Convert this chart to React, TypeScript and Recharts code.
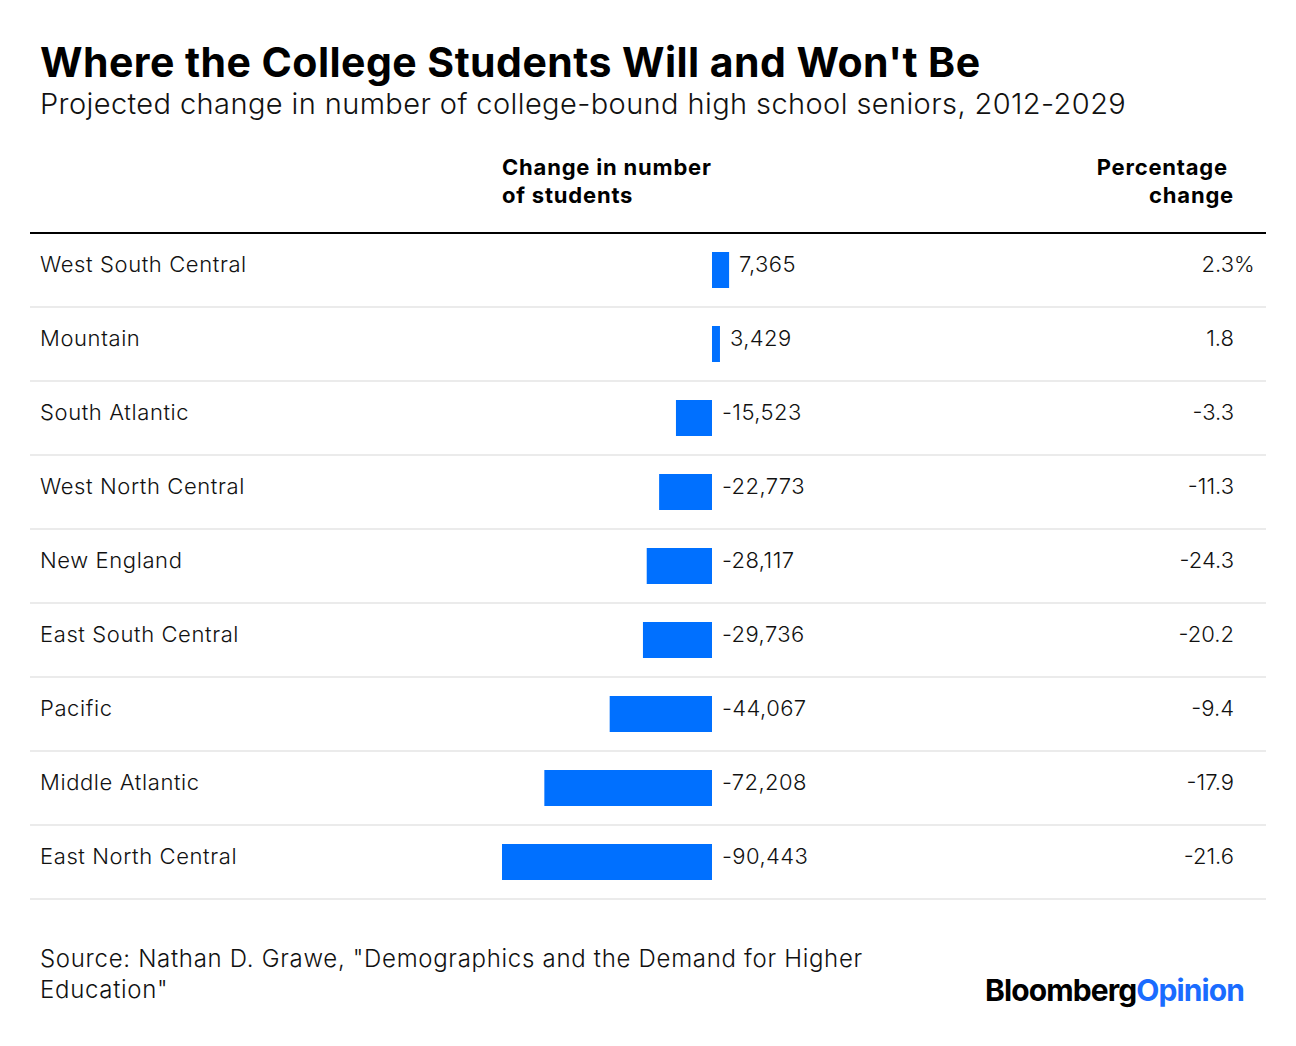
import { Bar, BarChart, LabelList, XAxis, YAxis } from 'recharts';

const regions = [
  'West South Central',
  'Mountain',
  'South Atlantic',
  'West North Central',
  'New England',
  'East South Central',
  'Pacific',
  'Middle Atlantic',
  'East North Central',
];
const changes = [7365, 3429, -15523, -22773, -28117, -29736, -44067, -72208, -90443];
const pctChanges = [2.3, 1.8, -3.3, -11.3, -24.3, -20.2, -9.4, -17.9, -21.6];

const BLUE = '#0070ff';
const FONT = 'Inter, "Noto Sans", sans-serif';
const ROW_H = 74;

const rows = regions.map((region, i) => ({
  region,
  change: changes[i],
  pct: pctChanges[i],
}));

const labelStyle = { fontSize: 22, fill: '#111', fontFamily: FONT, fontWeight: 300, letterSpacing: 0.6 };

function RowLine(props: any) {
  const { y, height } = props;
  const yy = y + height / 2 + ROW_H / 2;
  return <line x1={30} x2={1266} y1={yy} y2={yy} stroke="#ebebeb" strokeWidth={2} />;
}

function NameLabel(props: any) {
  const { y, height, value } = props;
  return (
    <text x={40} y={y + height / 2 + 2} style={labelStyle}>
      {value}
    </text>
  );
}

function ValueLabel(props: any) {
  const { x, y, width, height, value } = props;
  const right = Math.max(x, x + width);
  return (
    <text x={right + 10} y={y + height / 2 + 2} style={{ ...labelStyle, letterSpacing: 0.4 }}>
      {Number(value).toLocaleString('en-US')}
    </text>
  );
}

function PctLabel(props: any) {
  const { y, height, value, index } = props;
  const ty = y + height / 2 + 2;
  return (
    <g>
      <text x={1234} y={ty} style={{ ...labelStyle, letterSpacing: 0 }} textAnchor="end">
        {Number(value).toFixed(1)}
      </text>
      {index === 0 && (
        <text x={1234} y={ty} style={{ ...labelStyle, letterSpacing: 0 }}>
          %
        </text>
      )}
    </g>
  );
}

export default function App() {
  const k = 210 / 90443;
  const left = 712 - 100000 * k;
  const right = 1296 - (712 + 20000 * k);
  return (
    <div style={{ position: 'absolute', left: 0, top: 0, width: 1296, height: 1046, background: '#fff', fontFamily: FONT, color: '#000' }}>
      <div style={{ position: 'absolute', left: 40, top: 37, fontSize: 41, fontWeight: 700, whiteSpace: 'nowrap', letterSpacing: 0.45 }}>
        Where the College Students Will and Won't Be
      </div>
      <div style={{ position: 'absolute', left: 40, top: 86, fontSize: 29, fontWeight: 300, whiteSpace: 'nowrap', color: '#111', letterSpacing: 0.4 }}>
        Projected change in number of college-bound high school seniors, 2012-2029
      </div>
      <div style={{ position: 'absolute', left: 502, top: 153, fontSize: 22, fontWeight: 700, lineHeight: '28px', letterSpacing: 0.8 }}>
        Change in number
        <br />
        of students
      </div>
      <div style={{ position: 'absolute', right: 1296 - 1234, top: 153, fontSize: 22, fontWeight: 700, lineHeight: '28px', textAlign: 'right', letterSpacing: 0.8 }}>
        Percentage&nbsp;
        <br />
        change
      </div>
      <div style={{ position: 'absolute', left: 30, top: 232, width: 1236, height: 2, background: '#000' }} />
      <div style={{ position: 'absolute', left: 0, top: 0 }}>
        <BarChart
          width={1296}
          height={1046}
          data={rows}
          layout="vertical"
          margin={{ top: 233, bottom: 1046 - 233 - ROW_H * regions.length, left, right }}
          barCategoryGap={0}
        >
          <XAxis type="number" domain={[-100000, 20000]} hide />
          <YAxis type="category" dataKey="region" hide />
          <Bar dataKey="change" fill={BLUE} barSize={36} background={<RowLine />} isAnimationActive={false}>
            <LabelList dataKey="region" content={<NameLabel />} />
            <LabelList dataKey="change" content={<ValueLabel />} />
            <LabelList dataKey="pct" content={<PctLabel />} />
          </Bar>
        </BarChart>
      </div>
      <div style={{ position: 'absolute', left: 40, top: 943, fontSize: 24, fontWeight: 300, lineHeight: '31px', color: '#111', width: 860, letterSpacing: 0.7 }}>
        Source: Nathan D. Grawe, "Demographics and the Demand for Higher Education"
      </div>
      <div style={{ position: 'absolute', left: 985, top: 972, fontSize: 30, fontWeight: 700, letterSpacing: -0.9, whiteSpace: 'nowrap' }}>
        <span style={{ color: '#000' }}>Bloomberg</span>
        <span style={{ color: '#1a6cff' }}>Opinion</span>
      </div>
    </div>
  );
}
